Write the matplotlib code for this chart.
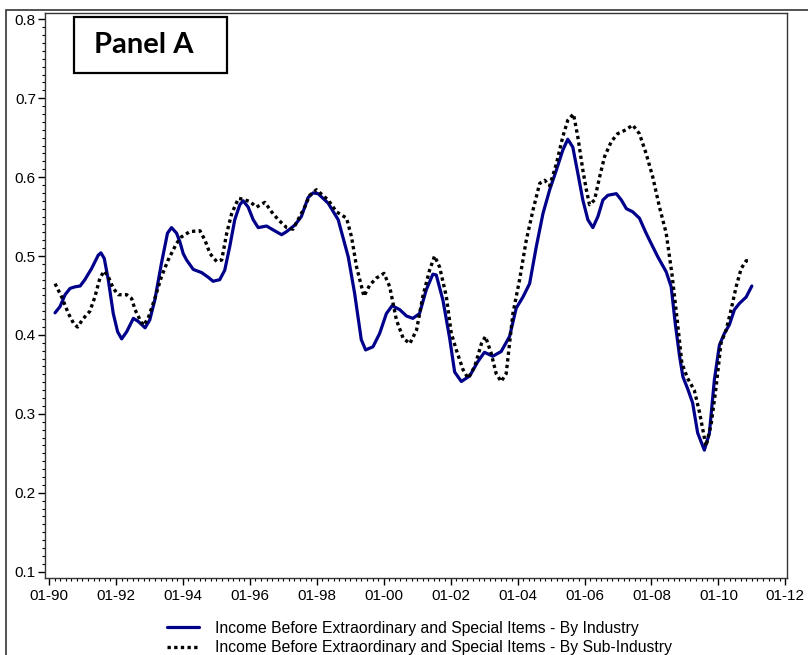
import matplotlib
matplotlib.use("Agg")
import matplotlib.pyplot as plt
from matplotlib.patches import Rectangle
from matplotlib.ticker import MultipleLocator, FixedLocator, FixedFormatter

plt.rcParams['font.family'] = ['Liberation Sans', 'DejaVu Sans']

# decimal years, with the plotted value
ind_x = [1990.18, 1990.33, 1990.48, 1990.63, 1990.78, 1990.93, 1991.07, 1991.27, 1991.47, 1991.55,
         1991.65, 1991.77, 1991.92, 1992.05, 1992.17, 1992.32, 1992.52, 1992.67, 1992.87, 1993.01,
         1993.16, 1993.36, 1993.54, 1993.66, 1993.81, 1993.91, 1994.01, 1994.11, 1994.31, 1994.56,
         1994.76, 1994.90, 1995.10, 1995.25, 1995.40, 1995.55, 1995.70, 1995.80, 1995.95, 1996.10,
         1996.25, 1996.50, 1996.70, 1996.95, 1997.10, 1997.34, 1997.54, 1997.74, 1997.89, 1998.04,
         1998.34, 1998.64, 1998.94, 1999.13, 1999.33, 1999.46, 1999.68, 1999.88, 2000.08, 2000.25,
         2000.48, 2000.68, 2000.87, 2001.07, 2001.27, 2001.47, 2001.57, 2001.77, 2001.97, 2002.12,
         2002.32, 2002.57, 2002.81, 2003.01, 2003.26, 2003.51, 2003.76, 2003.96, 2004.16, 2004.36,
         2004.56, 2004.76, 2004.96, 2005.16, 2005.35, 2005.50, 2005.65, 2005.80, 2005.95, 2006.10,
         2006.25, 2006.40, 2006.55, 2006.70, 2006.95, 2007.10, 2007.25, 2007.44, 2007.64, 2007.84,
         2007.99, 2008.19, 2008.44, 2008.59, 2008.71, 2008.84, 2008.94, 2009.08, 2009.23, 2009.38,
         2009.58, 2009.73, 2009.88, 2010.03, 2010.18, 2010.33, 2010.48, 2010.63, 2010.83, 2011.00]
ind_y = [0.428, 0.436, 0.451, 0.459, 0.461, 0.462, 0.470, 0.484, 0.501, 0.504,
         0.497, 0.470, 0.427, 0.404, 0.395, 0.404, 0.421, 0.417, 0.409, 0.419,
         0.444, 0.491, 0.529, 0.536, 0.529, 0.518, 0.503, 0.495, 0.483, 0.479,
         0.473, 0.468, 0.470, 0.482, 0.512, 0.546, 0.565, 0.570, 0.562, 0.546,
         0.536, 0.538, 0.533, 0.527, 0.531, 0.539, 0.550, 0.574, 0.580, 0.579,
         0.567, 0.546, 0.499, 0.453, 0.394, 0.381, 0.385, 0.402, 0.427, 0.437,
         0.432, 0.424, 0.421, 0.427, 0.457, 0.477, 0.476, 0.444, 0.396, 0.353,
         0.341, 0.348, 0.366, 0.378, 0.373, 0.379, 0.398, 0.434, 0.448, 0.465,
         0.512, 0.554, 0.584, 0.609, 0.634, 0.648, 0.638, 0.605, 0.571, 0.546,
         0.536, 0.550, 0.571, 0.577, 0.579, 0.571, 0.560, 0.556, 0.548, 0.529,
         0.516, 0.499, 0.480, 0.461, 0.415, 0.373, 0.347, 0.332, 0.314, 0.276,
         0.254, 0.275, 0.343, 0.387, 0.402, 0.413, 0.432, 0.440, 0.448, 0.462]

sub_x = [1990.18, 1990.38, 1990.58, 1990.73, 1990.85, 1991.03, 1991.22, 1991.37, 1991.52, 1991.65,
         1991.77, 1991.92, 1992.07, 1992.32, 1992.47, 1992.57, 1992.72, 1992.82, 1992.96, 1993.16,
         1993.36, 1993.56, 1993.81, 1993.95, 1994.21, 1994.51, 1994.66, 1994.81, 1995.01, 1995.16,
         1995.31, 1995.46, 1995.66, 1995.80, 1996.00, 1996.20, 1996.45, 1996.65, 1996.85, 1997.10,
         1997.29, 1997.44, 1997.64, 1997.79, 1997.99, 1998.34, 1998.59, 1998.89, 1999.04, 1999.19,
         1999.41, 1999.58, 1999.78, 2000.01, 2000.18, 2000.38, 2000.58, 2000.78, 2000.98, 2001.17,
         2001.37, 2001.52, 2001.67, 2001.87, 2002.02, 2002.17, 2002.37, 2002.52, 2002.72, 2002.92,
         2003.04, 2003.21, 2003.36, 2003.51, 2003.66, 2003.86, 2004.06, 2004.26, 2004.46, 2004.66,
         2004.81, 2004.96, 2005.16, 2005.35, 2005.50, 2005.67, 2005.80, 2005.95, 2006.05, 2006.15,
         2006.30, 2006.45, 2006.60, 2006.80, 2006.99, 2007.24, 2007.44, 2007.64, 2007.84, 2008.04,
         2008.24, 2008.44, 2008.61, 2008.77, 2008.91, 2009.08, 2009.28, 2009.43, 2009.63, 2009.78,
         2009.93, 2010.08, 2010.23, 2010.38, 2010.53, 2010.68, 2010.83, 2010.98]
sub_y = [0.465, 0.448, 0.427, 0.415, 0.410, 0.421, 0.430, 0.448, 0.472, 0.481,
         0.474, 0.459, 0.451, 0.451, 0.446, 0.432, 0.419, 0.412, 0.421, 0.446,
         0.474, 0.495, 0.516, 0.524, 0.531, 0.532, 0.520, 0.503, 0.493, 0.495,
         0.529, 0.554, 0.573, 0.572, 0.569, 0.562, 0.568, 0.556, 0.546, 0.536,
         0.534, 0.546, 0.562, 0.577, 0.584, 0.571, 0.556, 0.548, 0.524, 0.486,
         0.449, 0.463, 0.472, 0.478, 0.461, 0.419, 0.396, 0.389, 0.406, 0.449,
         0.482, 0.500, 0.486, 0.449, 0.402, 0.381, 0.356, 0.345, 0.360, 0.389,
         0.398, 0.377, 0.351, 0.341, 0.351, 0.427, 0.470, 0.520, 0.558, 0.592,
         0.596, 0.589, 0.617, 0.651, 0.672, 0.680, 0.651, 0.609, 0.585, 0.565,
         0.571, 0.600, 0.626, 0.645, 0.655, 0.660, 0.666, 0.655, 0.630, 0.600,
         0.562, 0.529, 0.478, 0.419, 0.364, 0.345, 0.330, 0.303, 0.259, 0.286,
         0.333, 0.390, 0.406, 0.432, 0.461, 0.484, 0.494, 0.494]

tick_years = [1990, 1992, 1994, 1996, 1998, 2000, 2002, 2004, 2006, 2008, 2010, 2012]
tick_labels = ['01-90', '01-92', '01-94', '01-96', '01-98', '01-00',
               '01-02', '01-04', '01-06', '01-08', '01-10', '01-12']

labels = ['Income Before Extraordinary and Special Items - By Industry',
          'Income Before Extraordinary and Special Items - By Sub-Industry']

fig = plt.figure(figsize=(8.08, 6.55), dpi=100)
ax = fig.add_axes([0.0557, 0.1176, 0.9183, 0.8626])

ax.plot(ind_x, ind_y, color='#00008B', lw=2.3, label=labels[0], solid_capstyle='round')
ax.plot(sub_x, sub_y, color='black', lw=2.4, linestyle=(0, (1, 1)), label=labels[1])

ax.set_xlim(1989.88, 2012.05)
ax.set_ylim(0.092, 0.808)

ax.xaxis.set_major_locator(FixedLocator(tick_years))
ax.xaxis.set_major_formatter(FixedFormatter(tick_labels))
ax.xaxis.set_minor_locator(MultipleLocator(1 / 6))
ax.yaxis.set_major_locator(MultipleLocator(0.1))
ax.yaxis.set_minor_locator(MultipleLocator(0.01))
ax.yaxis.set_major_formatter(matplotlib.ticker.FormatStrFormatter('%.1f'))

ax.tick_params(which='major', direction='out', length=5, width=1, labelsize=11, pad=3)
ax.tick_params(axis='y', which='major', pad=1.5)
ax.tick_params(which='minor', direction='out', length=2.5, width=0.8)
ax.tick_params(top=False, right=False, which='both')
for s in ax.spines.values():
    s.set_color('#333333')
    s.set_linewidth(1.0)

# Panel label box
ax.add_patch(Rectangle((0.039, 0.894), 0.206, 0.099, transform=ax.transAxes,
                       fill=False, edgecolor='black', lw=1.6, zorder=5))
ax.text(0.133, 0.943, 'Panel A', transform=ax.transAxes, ha='center', va='center',
        fontsize=21, fontweight='bold', family=['Lato', 'DejaVu Sans'])

# outer frame around the graphic
fig.patches.append(Rectangle((6 / 808, -0.02), 1.0, (655 - 9.5) / 655 + 0.02,
                             transform=fig.transFigure, fill=False,
                             edgecolor='#333333', lw=1.2))

fig.legend(loc='center', bbox_to_anchor=(0.519, 0.026), frameon=False,
           fontsize=11.3, handlelength=2.05, handletextpad=1.0, labelspacing=0.3,
           borderpad=0, borderaxespad=0)

fig.savefig('out.png', dpi=100)
